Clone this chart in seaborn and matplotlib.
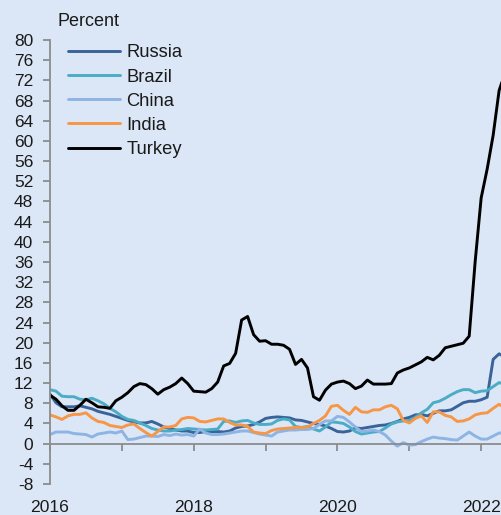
import matplotlib
matplotlib.use("Agg")
import matplotlib.pyplot as plt
import numpy as np
import pandas as pd
import seaborn as sns

# ----------------------
# Data: CPI inflation, y/y, monthly Jan 2016 - May 2022
# ----------------------
dates = pd.date_range("2016-01-01", "2022-05-01", freq="MS")

russia = [9.8, 8.1, 7.3, 7.3, 7.3, 7.5, 7.2, 6.9, 6.4, 6.1, 5.8, 5.4,
          5.0, 4.6, 4.3, 4.1, 4.1, 4.4, 3.9, 3.3, 3.0, 2.7, 2.5, 2.5,
          2.2, 2.2, 2.4, 2.4, 2.4, 2.3, 2.5, 3.1, 3.4, 3.5, 3.8, 4.3,
          5.0, 5.2, 5.3, 5.2, 5.1, 4.7, 4.6, 4.3, 4.0, 3.8, 3.5, 3.0,
          2.4, 2.3, 2.5, 3.1, 3.0, 3.2, 3.4, 3.6, 3.7, 4.0, 4.4, 4.9,
          5.2, 5.7, 5.8, 5.5, 6.0, 6.5, 6.5, 6.7, 7.4, 8.1, 8.4, 8.4,
          8.7, 9.2, 16.7, 17.8, 17.1]
brazil = [10.7, 10.4, 9.4, 9.3, 9.3, 8.8, 8.7, 9.0, 8.5, 7.9, 7.0, 6.3,
          5.4, 4.8, 4.6, 4.1, 3.6, 3.0, 2.7, 2.5, 2.5, 2.7, 2.8, 3.0,
          2.9, 2.8, 2.7, 2.8, 2.9, 4.4, 4.5, 4.2, 4.5, 4.6, 4.1, 3.8,
          3.8, 3.9, 4.6, 4.9, 4.7, 3.4, 3.2, 3.4, 2.9, 2.5, 3.3, 4.3,
          4.2, 4.0, 3.3, 2.4, 1.9, 2.1, 2.3, 2.4, 3.1, 3.9, 4.3, 4.5,
          4.6, 5.2, 6.1, 6.8, 8.1, 8.4, 9.0, 9.7, 10.3, 10.7, 10.7, 10.1,
          10.4, 10.5, 11.3, 12.1, 11.7]
china = [1.8, 2.3, 2.3, 2.3, 2.0, 1.9, 1.8, 1.3, 1.9, 2.1, 2.3, 2.1,
         2.5, 0.8, 0.9, 1.2, 1.5, 1.5, 1.4, 1.8, 1.6, 1.9, 1.7, 1.8,
         1.5, 2.9, 2.1, 1.8, 1.8, 1.9, 2.1, 2.3, 2.5, 2.5, 2.2, 1.9,
         1.7, 1.5, 2.3, 2.5, 2.7, 2.7, 2.8, 2.8, 3.0, 3.8, 4.5, 4.5,
         5.4, 5.2, 4.3, 3.3, 2.4, 2.5, 2.7, 2.4, 1.7, 0.5, -0.5, 0.2,
         -0.3, -0.2, 0.4, 0.9, 1.3, 1.1, 1.0, 0.8, 0.7, 1.5, 2.3, 1.5,
         0.9, 0.9, 1.5, 2.1, 2.1]
india = [5.7, 5.3, 4.8, 5.5, 5.8, 5.8, 6.1, 5.1, 4.4, 4.2, 3.6, 3.4,
         3.2, 3.7, 3.9, 3.0, 2.2, 1.5, 2.4, 3.3, 3.3, 3.6, 4.9, 5.2,
         5.1, 4.4, 4.3, 4.6, 4.9, 4.9, 4.2, 3.7, 3.7, 3.4, 2.3, 2.1,
         2.0, 2.6, 2.9, 3.0, 3.1, 3.2, 3.2, 3.3, 4.0, 4.6, 5.5, 7.4,
         7.6, 6.6, 5.8, 7.2, 6.3, 6.2, 6.7, 6.7, 7.3, 7.6, 6.9, 4.6,
         4.1, 5.0, 5.5, 4.2, 6.3, 6.3, 5.6, 5.3, 4.4, 4.5, 4.9, 5.7,
         6.0, 6.1, 7.0, 7.8, 7.0]
turkey = [9.6, 8.8, 7.5, 6.6, 6.6, 7.6, 8.8, 8.1, 7.3, 7.2, 7.0, 8.5,
          9.2, 10.1, 11.3, 11.9, 11.7, 10.9, 9.8, 10.7, 11.2, 11.9, 13.0, 11.9,
          10.4, 10.3, 10.2, 10.9, 12.2, 15.4, 15.9, 17.9, 24.5, 25.2, 21.6, 20.3,
          20.4, 19.7, 19.7, 19.5, 18.7, 15.7, 16.7, 15.0, 9.3, 8.6, 10.6, 11.8,
          12.2, 12.4, 11.9, 10.9, 11.4, 12.6, 11.8, 11.8, 11.8, 11.9, 14.0, 14.6,
          15.0, 15.6, 16.2, 17.1, 16.6, 17.5, 19.0, 19.3, 19.6, 19.9, 21.3, 36.1,
          48.7, 54.4, 61.1, 70.0, 73.5]

countries = ["Russia", "Brazil", "China", "India", "Turkey"]
colors = ["#3A6399", "#4BACC6", "#8EB4E3", "#F79646", "#000000"]

df = pd.DataFrame({"date": dates, "Russia": russia, "Brazil": brazil,
                   "China": china, "India": india, "Turkey": turkey})
df["year"] = df["date"].dt.year + (df["date"].dt.month - 1) / 12
df_long = df.melt(id_vars=["date", "year"], value_vars=countries,
                  var_name="country", value_name="inflation")

# ----------------------
# Plot
# ----------------------
sns.set_theme(style="ticks")
plt.rcParams["font.family"] = ["Liberation Sans", "DejaVu Sans"]
plt.rcParams["axes.unicode_minus"] = False

bg = "#DBE7F6"
grey = "#8C8C8C"
txt = "#1a1a1a"

fig = plt.figure(figsize=(5.02, 5.15), dpi=100, facecolor=bg)
ax = fig.add_axes([50 / 502, 31 / 515, 452 / 502, 444 / 515])
ax.set_facecolor(bg)

sns.lineplot(data=df_long, x="year", y="inflation", hue="country",
             hue_order=countries, palette=dict(zip(countries, colors)),
             linewidth=2.1, ax=ax)

ax.set_xlim(2016, 2022.29)
ax.set_ylim(-8, 80)
ax.set_yticks(np.arange(-8, 81, 4))
ax.set_xlabel("")
ax.set_ylabel("")

# axes styling: x axis line sits at zero
ax.spines["top"].set_visible(False)
ax.spines["right"].set_visible(False)
ax.spines["bottom"].set_position(("data", 0))
for s in ["left", "bottom"]:
    ax.spines[s].set_color(grey)
    ax.spines[s].set_linewidth(1.3)
ax.set_xticks(range(2016, 2023))
ax.tick_params(axis="x", labelbottom=False, length=5, width=1.3, color=grey)
ax.tick_params(axis="y", length=5, width=1.3, color=grey, labelsize=12.5,
               labelcolor=txt, pad=7)

# year labels at the bottom of the plot
sec = ax.secondary_xaxis(0)
sec.set_xticks([2016, 2018, 2020, 2022])
sec.set_xticklabels(["2016", "2018", "2020", "2022"])
sec.tick_params(length=0, labelsize=12.6, labelcolor=txt, pad=11.5)
sec.spines["bottom"].set_visible(False)

handles, labels = ax.get_legend_handles_labels()
ax.legend(handles, labels, loc="upper left", bbox_to_anchor=(0.04, 0.99),
          frameon=False, fontsize=13.2, handlelength=2.84, handletextpad=0.33,
          labelspacing=0.39, borderpad=0, borderaxespad=0, labelcolor=txt)

fig.text(58 / 502, 1 - 21 / 515, "Percent", fontsize=13, color=txt,
         va="center", ha="left")

fig.savefig("out.png", dpi=100, facecolor=bg)
